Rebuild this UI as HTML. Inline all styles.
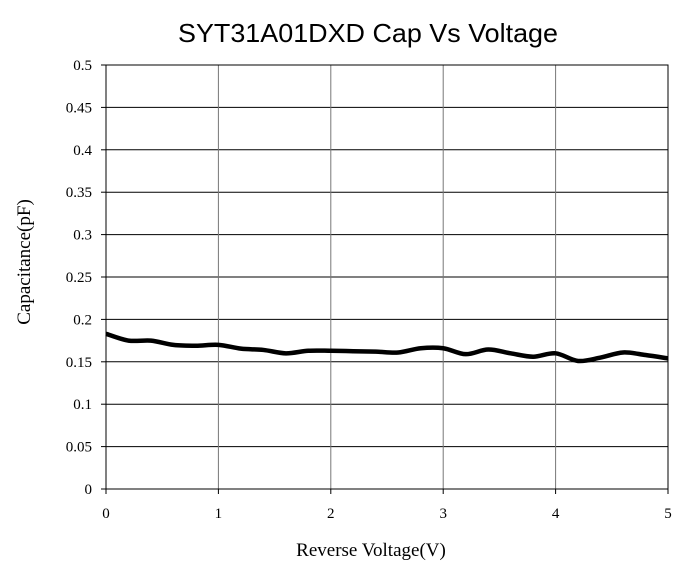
<!DOCTYPE html>
<html><head><meta charset="utf-8"><style>
body{margin:0;background:#fff;}
svg{display:block;}
</style></head><body>
<svg id="chart" width="692" height="573">
<text x="368" y="42" text-anchor="middle" textLength="380" lengthAdjust="spacingAndGlyphs" font-family="'Liberation Sans',sans-serif" font-size="26">SYT31A01DXD Cap Vs Voltage</text>
<g id="grid"></g><g id="ticks"></g>
<text x="371" y="556" text-anchor="middle" font-family="'Liberation Serif',serif" font-size="19">Reverse Voltage(V)</text>
<text transform="translate(30,262) rotate(-90)" text-anchor="middle" font-family="'Liberation Serif',serif" font-size="19">Capacitance(pF)</text>
<path id="line" fill="none" stroke="#000" stroke-width="4.5" stroke-linejoin="round"/>
</svg>
<script>
const voltages=[0,0.2,0.4,0.6,0.8,1.0,1.2,1.4,1.6,1.8,2.0,2.2,2.4,2.6,2.8,3.0,3.2,3.4,3.6,3.8,4.0,4.2,4.4,4.6,4.8,5.0];
const capValues=[0.183,0.175,0.175,0.170,0.169,0.170,0.1655,0.164,0.160,0.163,0.163,0.1625,0.162,0.161,0.166,0.166,0.159,0.1645,0.160,0.156,0.160,0.151,0.155,0.161,0.158,0.154];
const xTicks=[0,1,2,3,4,5];
const yTicks=[0,0.05,0.1,0.15,0.2,0.25,0.3,0.35,0.4,0.45,0.5];
const X0=106,X1=668,Y0=489,Y1=65;
const xs=v=>X0+(v-0)/5*(X1-X0);
const ys=v=>Y0-(v/0.5)*(Y0-Y1);
const NS='http://www.w3.org/2000/svg';
const grid=document.getElementById('grid'),ticks=document.getElementById('ticks');
function mk(tag,attrs,parent){const e=document.createElementNS(NS,tag);for(const k in attrs)e.setAttribute(k,attrs[k]);parent.appendChild(e);return e;}
yTicks.forEach(t=>{
  const l=mk('line',{x1:X0,x2:X1,y1:ys(t),y2:ys(t),stroke:'#000','stroke-width':1},grid);
  
  
  const tk=mk('line',{x1:X0-5,x2:X0,y1:ys(t),y2:ys(t),stroke:'#000'},ticks);
  
  
  const tx=mk('text',{x:X0-14,y:ys(t)+5,'text-anchor':'end','font-family':"'Liberation Serif',serif",'font-size':15},ticks);
  tx.textContent=String(t);
  
  
});
xTicks.forEach(t=>{
  const l=mk('line',{x1:xs(t),x2:xs(t),y1:Y1,y2:Y0,stroke:t===0||t===5?'#000':'#777','stroke-width':1},grid);
  
  
  const tk=mk('line',{x1:xs(t),x2:xs(t),y1:Y0,y2:Y0+5,stroke:'#000'},ticks);
  
  
  const tx=mk('text',{x:xs(t),y:Y0+29,'text-anchor':'middle','font-family':"'Liberation Serif',serif",'font-size':15},ticks);
  tx.textContent=String(t);
  
  
});
const b=mk('rect',{x:X0,y:Y1,width:X1-X0,height:Y0-Y1,fill:'none',stroke:'#000'},grid);


const P=voltages.map((v,i)=>[xs(v),ys(capValues[i])]);
let d='M'+P[0][0]+','+P[0][1];
for(let i=0;i<P.length-1;i++){
  const p0=P[Math.max(0,i-1)],p1=P[i],p2=P[i+1],p3=P[Math.min(P.length-1,i+2)];
  const c1=[p1[0]+(p2[0]-p0[0])/6,p1[1]+(p2[1]-p0[1])/6];
  const c2=[p2[0]-(p3[0]-p1[0])/6,p2[1]-(p3[1]-p1[1])/6];
  d+=` C${c1[0]},${c1[1]} ${c2[0]},${c2[1]} ${p2[0]},${p2[1]}`;
}
document.getElementById('line').setAttribute('d',d);
</script>
</body></html>
